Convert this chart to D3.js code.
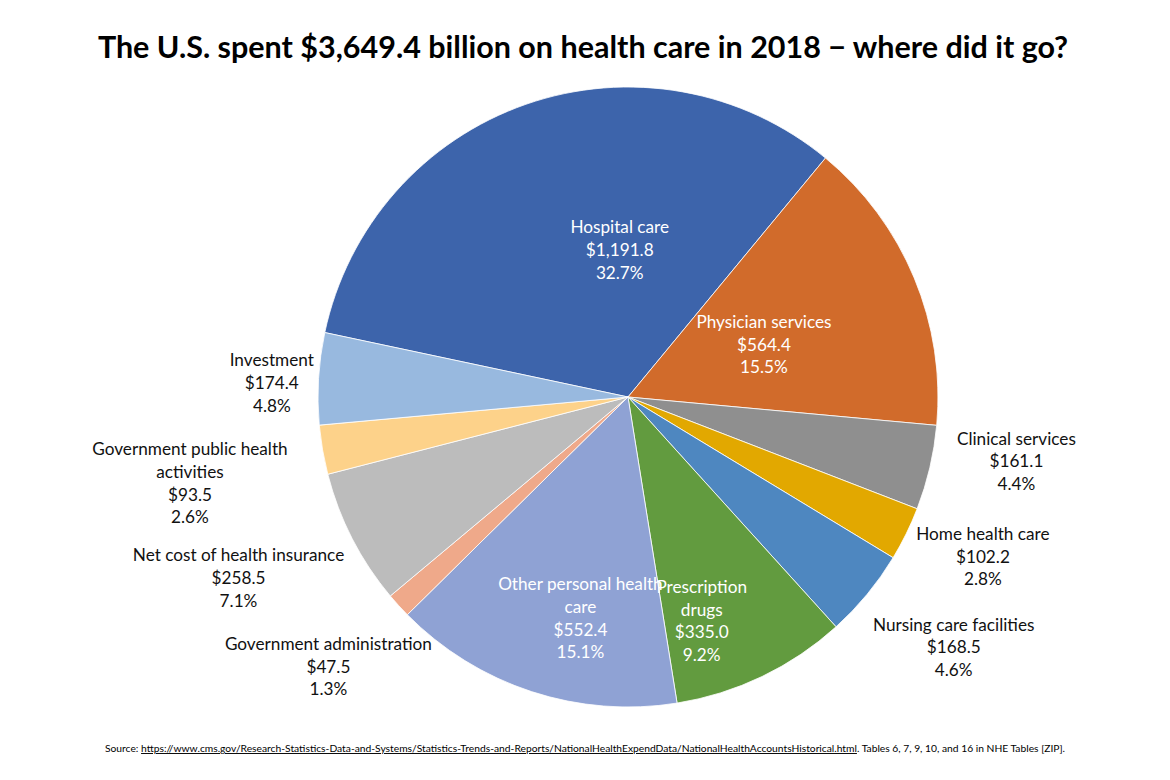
<!DOCTYPE html>
<html>
<head>
<meta charset="utf-8">
<script src="https://cdn.jsdelivr.net/npm/d3@7"></script>
<style>
  body { margin: 0; background: #fff; }
  svg { display: block; }
  text { font-family: Lato, "Open Sans", sans-serif; }
</style>
</head>
<body>
<svg id="chart" width="1170" height="780"></svg>
<script>
// spending by category, billions of dollars (2018)
const categories = ["Hospital care", "Physician services", "Clinical services", "Home health care",
  "Nursing care facilities", "Prescription drugs", "Other personal health care",
  "Government administration", "Net cost of health insurance",
  "Government public health activities", "Investment"];
const spending = [1191.8, 564.4, 161.1, 102.2, 168.5, 335.0, 552.4, 47.5, 258.5, 93.5, 174.4];
const shares = ["32.7%", "15.5%", "4.4%", "2.8%", "4.6%", "9.2%", "15.1%", "1.3%", "7.1%", "2.6%", "4.8%"];
const colors = ["#3d64ab", "#d16b2b", "#8f8f8f", "#e2a800", "#4e87c0", "#629b3f", "#8fa2d4",
  "#efa98a", "#bcbcbc", "#fdd28a", "#98b9df"];

const svg = d3.select("#chart");
const cx = 628, cy = 397, r = 310;

// title
svg.append("text")
  .attr("x", 583).attr("y", 58)
  .attr("text-anchor", "middle")
  .attr("font-size", 30.5).attr("font-weight", "bold")
  .attr("fill", "#000")
  .text("The U.S. spent $3,649.4 billion on health care in 2018 \u2212 where did it go?");

const deg = Math.PI / 180;
const start = -78 * deg;
const pie = d3.pie().sort(null).value(d => d).startAngle(start).endAngle(start + 2 * Math.PI);
const arcs = pie(spending);
const arc = d3.arc().innerRadius(0).outerRadius(r);

const g = svg.append("g").attr("transform", `translate(${cx},${cy})`);

g.selectAll("path.slice")
  .data(arcs)
  .join("path")
  .attr("class", "slice")
  .attr("d", arc)
  .attr("fill", (d, i) => colors[i])
  .attr("stroke", "#fff")
  .attr("stroke-width", 0.8);

// label layout: distance from centre (in radii), angle tweak, inside or not
const labelLayout = {
  "Hospital care": {k: 0.475, da: 16, inside: true},
  "Physician services": {k: 0.47, da: 1.5, inside: true},
  "Clinical services": {k: 1.27, da: -3.8},
  "Home health care": {k: 1.255, da: -2},
  "Nursing care facilities": {k: 1.325, da: -2},
  "Prescription drugs": {k: 0.76, da: 7.4, inside: true},
  "Other personal health care": {k: 0.73, da: -6, inside: true},
  "Government administration": {k: 1.30, da: 0.3},
  "Net cost of health insurance": {k: 1.385, da: 2.3},
  "Government public health activities": {k: 1.44, da: -1.3},
  "Investment": {k: 1.15, da: -1.1}
};
const wraps = {
  "Government public health activities": ["Government public health", "activities"],
  "Other personal health care": ["Other personal health", "care"],
  "Prescription drugs": ["Prescription", "drugs"]
};
const fmt = d3.format(",.1f");
const lh = 22.7;

arcs.forEach((a, i) => {
  const name = categories[i];
  const lay = labelLayout[name];
  const mid = (a.startAngle + a.endAngle) / 2 + lay.da * deg;
  const px = Math.sin(mid) * r * lay.k;
  const py = -Math.cos(mid) * r * lay.k;
  const lines = (wraps[name] || [name]).concat(["$" + fmt(spending[i]), shares[i]]);
  const t = g.append("text")
    .attr("text-anchor", "middle")
    .attr("font-size", 17.2)
    .attr("fill", lay.inside ? "#fff" : "#111");
  lines.forEach((s, j) => {
    t.append("tspan")
      .attr("x", px)
      .attr("y", py + (j - (lines.length - 1) / 2) * lh)
      .attr("dy", "0.36em")
      .text(s);
  });
});

// source note
const src = svg.append("text")
  .attr("x", 105).attr("y", 752)
  .attr("font-size", 9.5)
  .attr("fill", "#000")
  .attr("textLength", 960)
  .attr("lengthAdjust", "spacingAndGlyphs");
src.append("tspan").text("Source: ");
src.append("tspan").attr("text-decoration", "underline")
  .text("https://www.cms.gov/Research-Statistics-Data-and-Systems/Statistics-Trends-and-Reports/NationalHealthExpendData/NationalHealthAccountsHistorical.html");
src.append("tspan").text(". Tables 6, 7, 9, 10, and 16 in NHE Tables [ZIP].");
</script>
</body>
</html>
